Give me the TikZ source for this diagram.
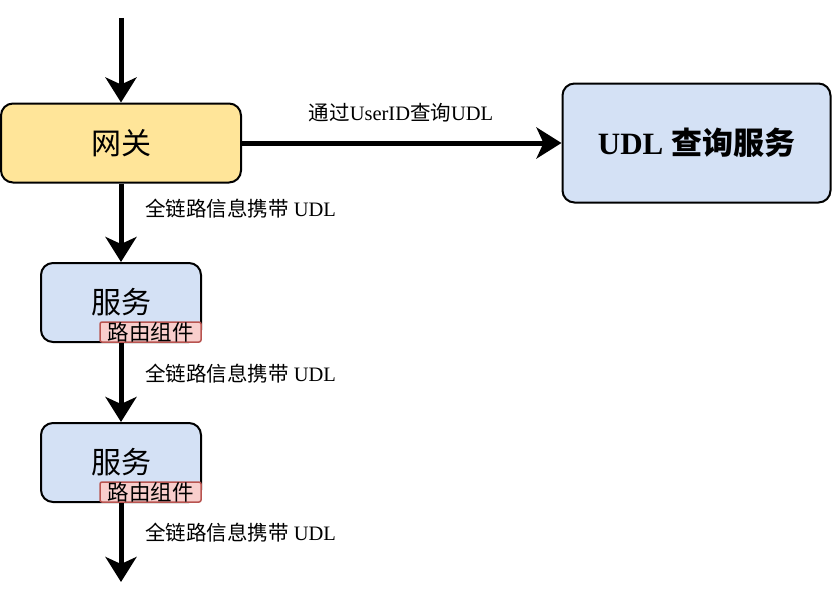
\documentclass[tikz,border=0pt]{standalone}
\usepackage{fontspec}
\setmainfont{Liberation Serif}
\newfontfamily\cjk{Noto Sans CJK SC}
\usetikzlibrary{arrows.meta}
\definecolor{gwfill}{HTML}{FFE599}
\definecolor{svfill}{HTML}{D4E1F5}
\definecolor{rtfill}{HTML}{F8CECC}
\definecolor{rtdraw}{HTML}{B85450}
\tikzset{
  box/.style={draw=black, line width=2pt, rounded corners=12pt, minimum width=#1, inner sep=0pt},
  router/.style={draw=rtdraw, fill=rtfill, line width=1.5pt, rounded corners=2pt,
    minimum width=101pt, minimum height=20pt, inner sep=0pt, font=\fontsize{21.5}{22}\selectfont\cjk},
  flow/.style={line width=5pt, -{Stealth[length=25pt,width=31pt,inset=7pt]}},
  lbl/.style={font=\fontsize{20.5}{22}\selectfont, inner sep=0pt}
}
\begin{document}
\begin{tikzpicture}[x=1pt,y=-1pt]
\useasboundingbox (0,0) rectangle (832,602);
\node[box=240pt, minimum height=79pt, fill=gwfill, font=\fontsize{30}{34}\selectfont\cjk] (gw) at (121,143) {网关};
\node[box=268pt, minimum height=119pt, fill=svfill, font=\fontsize{31}{34}\selectfont\bfseries] (udl) at (696.5,143) {UDL {\cjk 查询服务}};
\node[box=160pt, minimum height=79pt, fill=svfill, font=\fontsize{30}{34}\selectfont\cjk] (s1) at (121,302.5) {服务};
\node[router] (r1) at (150.5,332) {路由组件};
\node[box=160pt, minimum height=79pt, fill=svfill, font=\fontsize{30}{34}\selectfont\cjk] (s2) at (121,462.5) {服务};
\node[router] (r2) at (150.5,492) {路由组件};
\coordinate (top) at (121,18);
\coordinate (bot) at (121,582);
\draw[flow] (top) -- (gw.north);
\draw[flow] (gw.east) -- (udl.west);
\draw[flow] (gw.south) -- (s1.north);
\draw[flow] (s1.south) -- (s2.north);
\draw[flow] (s2.south) -- (bot);
\node[lbl] (l0) at (401,113) {{\cjk 通过}UserID{\cjk 查询}UDL};
\node[lbl, anchor=west] (l1) at (145,209) {{\cjk 全链路信息携带} UDL};
\node[lbl, anchor=west] (l2) at (145,374) {{\cjk 全链路信息携带} UDL};
\node[lbl, anchor=west] (l3) at (145,533) {{\cjk 全链路信息携带} UDL};
\end{tikzpicture}
\end{document}
